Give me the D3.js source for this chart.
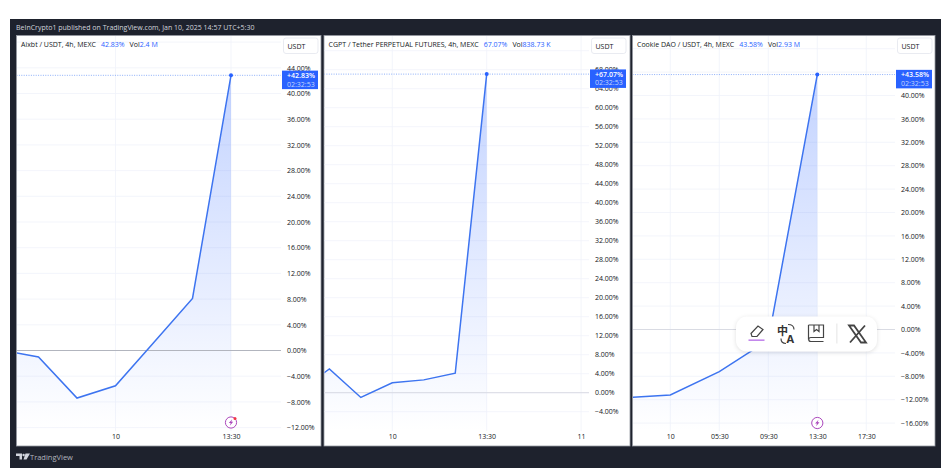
<!DOCTYPE html>
<html>
<head>
<meta charset="utf-8">
<script src="https://cdnjs.cloudflare.com/ajax/libs/d3/7.8.5/d3.min.js"></script>
<style>
  html, body { margin: 0; padding: 0; background: #fff; overflow: hidden; }
  text { font-family: "Open Sans", Roboto, sans-serif; }
</style>
</head>
<body>
<div id="chart"></div>
<script>
// Values (percent change, 4h bars, UTC+5:30)
const aixbtTimes = ["2025-01-09T13:30", "2025-01-09T17:30", "2025-01-09T21:30", "2025-01-10T01:30", "2025-01-10T05:30", "2025-01-10T09:30", "2025-01-10T13:30"];
const aixbtValues = [0.1, -1.0, -7.4, -5.5, 1.3, 8.1, 42.83];
const aixbtTicks = [44, 40, 36, 32, 28, 24, 20, 16, 12, 8, 4, 0, -4, -8, -12];
const aixbtGrid = [48, ...aixbtTicks];

const cgptTimes = ["2025-01-09T13:30", "2025-01-09T17:30", "2025-01-09T21:30", "2025-01-10T01:30", "2025-01-10T05:30", "2025-01-10T09:30", "2025-01-10T13:30"];
const cgptValues = [0.1, 5.0, -1.0, 2.1, 2.7, 4.1, 67.07];
const cgptTicks = [68, 64, 60, 56, 52, 48, 44, 40, 36, 32, 28, 24, 20, 16, 12, 8, 4, 0, -4];
const cgptGrid = [72, ...cgptTicks];

const cookieTimes = ["2025-01-09T21:30", "2025-01-10T01:30", "2025-01-10T05:30", "2025-01-10T09:30", "2025-01-10T13:30"];
const cookieValues = [-11.7, -11.2, -7.2, -1.8, 43.58];
const cookieTicks = [44, 40, 36, 32, 28, 24, 20, 16, 12, 8, 4, 0, -4, -8, -12, -16];
const cookieGrid = [48, ...cookieTicks];

const aixbtTimeTicks = [["2025-01-10T01:30", "10"], ["2025-01-10T13:30", "13:30"]];
const cgptTimeTicks = [["2025-01-10T01:30", "10"], ["2025-01-10T13:30", "13:30"], ["2025-01-11T01:30", "11"]];
const cookieTimeTicks = [["2025-01-10T01:30", "10"], ["2025-01-10T05:30", "05:30"], ["2025-01-10T09:30", "09:30"], ["2025-01-10T13:30", "13:30"], ["2025-01-10T17:30", "17:30"]];

const BLUE = "#2962ff";
const LINE = "#3d74f0";
const parseT = d3.timeParse("%Y-%m-%dT%H:%M");

const svg = d3.select("#chart").append("svg").attr("width", 952).attr("height", 471).style("display", "block");

// Frame
svg.append("rect").attr("x", 10).attr("y", 19).attr("width", 931).attr("height", 449).attr("fill", "#1e222d");
svg.append("text").attr("x", 16).attr("y", 30).attr("font-size", 7).attr("fill", "#d1d4dc")
  .text("BeInCrypto1 published on TradingView.com, Jan 10, 2025 14:57 UTC+5:30");

// One chart pane
function drawPanel(p) {
  const g = svg.append("g");
  const T = p.times.map(parseT);
  const data = T.map((t, i) => ({ t: t, v: p.values[i] }));
  const last = data[data.length - 1];

  const x = d3.scaleTime().domain([parseT(p.x0[0]), parseT(p.x1[0])]).range([p.x0[1], p.x1[1]]);
  const y = d3.scaleLinear().domain([0, 40]).range([p.zeroY, p.zeroY - p.per4 * 10]);

  g.append("rect").attr("x", p.left).attr("y", 35.5).attr("width", p.right - p.left).attr("height", 410.5)
    .attr("fill", "#fff").attr("stroke", "#9598a1").attr("stroke-width", 0.8);

  const clipId = "clip-" + p.id;
  svg.append("clipPath").attr("id", clipId).append("rect")
    .attr("x", p.left + 0.5).attr("y", 36).attr("width", p.plotRight - p.left).attr("height", 395);

  const plot = g.append("g").attr("clip-path", `url(#${clipId})`);

  // grid
  plot.selectAll("line.h").data(p.grid).enter().append("line").attr("class", "h")
    .attr("x1", p.left).attr("x2", p.plotRight)
    .attr("y1", (d) => y(d)).attr("y2", (d) => y(d))
    .attr("stroke", "#f0f3fa").attr("stroke-width", 0.8);
  plot.selectAll("line.v").data(p.timeTicks).enter().append("line").attr("class", "v")
    .attr("x1", (d) => x(parseT(d[0]))).attr("x2", (d) => x(parseT(d[0])))
    .attr("y1", 36).attr("y2", 431)
    .attr("stroke", "#f0f3fa").attr("stroke-width", 0.8);

  // area with vertical fade
  const gradId = "grad-" + p.id;
  const grad = svg.append("linearGradient").attr("id", gradId)
    .attr("gradientUnits", "userSpaceOnUse")
    .attr("x1", 0).attr("x2", 0).attr("y1", y(last.v)).attr("y2", 431);
  grad.append("stop").attr("offset", 0).attr("stop-color", BLUE).attr("stop-opacity", 0.28);
  grad.append("stop").attr("offset", 1).attr("stop-color", BLUE).attr("stop-opacity", 0);

  plot.append("path").datum(data)
    .attr("fill", `url(#${gradId})`)
    .attr("d", d3.area().x((d) => x(d.t)).y0(431).y1((d) => y(d.v)));

  // zero line
  plot.append("line").attr("x1", p.left).attr("x2", p.plotRight)
    .attr("y1", y(0)).attr("y2", y(0)).attr("stroke", p.zeroColor).attr("stroke-width", 1);

  // last price dotted line
  plot.append("line").attr("x1", p.left).attr("x2", p.plotRight)
    .attr("y1", y(last.v)).attr("y2", y(last.v))
    .attr("stroke", "#5b8cf5").attr("stroke-width", 0.7).attr("stroke-dasharray", "1 1.4");

  plot.append("path").datum(data)
    .attr("fill", "none").attr("stroke", LINE).attr("stroke-width", 1.5)
    .attr("d", d3.line().x((d) => x(d.t)).y((d) => y(d.v)));

  g.append("circle").attr("cx", x(last.t)).attr("cy", y(last.v)).attr("r", 2).attr("fill", BLUE);

  // price axis
  const axisY = d3.axisRight(y).tickValues(p.ticks).tickSize(0).tickPadding(0)
    .tickFormat((d) => (d < 0 ? "\u2212" + Math.abs(d).toFixed(2) : d.toFixed(2)) + "%");
  const ay = g.append("g").attr("transform", `translate(${p.labelX},0)`).call(axisY);
  ay.select(".domain").remove();
  ay.selectAll("text").attr("font-size", 7).attr("fill", "#131722").attr("font-family", '"Open Sans", Roboto, sans-serif');

  // time axis
  const axisX = d3.axisBottom(x).tickValues(p.timeTicks.map((d) => parseT(d[0]))).tickSize(0).tickPadding(0)
    .tickFormat((d, i) => p.timeTicks[i][1]);
  const ax = g.append("g").attr("transform", "translate(0,434)").call(axisX);
  ax.select(".domain").remove();
  ax.selectAll("text").attr("font-size", 7).attr("fill", "#131722").attr("font-family", '"Open Sans", Roboto, sans-serif');

  // legend line
  const legend = g.append("text").attr("x", p.left + 4.5).attr("y", 46.5).attr("font-size", 7).attr("fill", "#131722");
  legend.append("tspan").text(p.title);
  legend.append("tspan").attr("dx", 5).attr("fill", BLUE).text(last.v.toFixed(2) + "%");
  legend.append("tspan").attr("dx", 5).text("Vol");
  legend.append("tspan").attr("fill", BLUE).text(p.vol);

  // currency button
  g.append("rect").attr("x", p.labelX - 3.5).attr("y", 38).attr("width", 34.5).attr("height", 15.5).attr("rx", 2.5)
    .attr("fill", "#fff").attr("stroke", "#e0e3eb").attr("stroke-width", 0.7);
  g.append("text").attr("x", p.labelX + 0.5).attr("y", 48.5).attr("font-size", 7).attr("fill", "#131722").text("USDT");

  // last price tag
  g.append("rect").attr("x", p.labelX - 5).attr("y", y(last.v) - 4.7).attr("width", 36).attr("height", 18.5).attr("fill", BLUE);
  g.append("text").attr("x", p.labelX).attr("y", y(last.v) + 2.8).attr("font-size", 7).attr("fill", "#fff")
    .attr("font-weight", 600).text("+" + last.v.toFixed(2) + "%");
  g.append("text").attr("x", p.labelX).attr("y", y(last.v) + 11.3).attr("font-size", 7).attr("fill", "#c4d5fd").text("02:32:53");

  // lightning marker
  if (p.boltY) {
    const bolt = g.append("g").attr("transform", `translate(${x(last.t)},${p.boltY})`);
    bolt.append("circle").attr("r", 5.6).attr("fill", "#fff").attr("stroke", "#ab47bc").attr("stroke-width", 1);
    bolt.append("path").attr("d", "M1.2,-3.2L-2.2,0.6L-0.3,0.6L-1.2,3.2L2.2,-0.7L0.3,-0.7Z").attr("fill", "#ab47bc");
    if (p.boltDot) bolt.append("circle").attr("cx", 4).attr("cy", -4).attr("r", 1.5).attr("fill", "#f23645");
  }
}

drawPanel({
  id: "aixbt", title: "Aixbt / USDT, 4h, MEXC", vol: "2.4 M",
  times: aixbtTimes, values: aixbtValues, ticks: aixbtTicks, grid: aixbtGrid, timeTicks: aixbtTimeTicks,
  left: 16.5, right: 321, plotRight: 281, labelX: 287,
  x0: ["2025-01-10T01:30", 115.5], x1: ["2025-01-10T13:30", 231],
  zeroY: 350.5, per4: 25.7, zeroColor: "#b2b5be", boltY: 422.5, boltDot: true
});

drawPanel({
  id: "cgpt", title: "CGPT / Tether PERPETUAL FUTURES, 4h, MEXC", vol: "838.73 K",
  times: cgptTimes, values: cgptValues, ticks: cgptTicks, grid: cgptGrid, timeTicks: cgptTimeTicks,
  left: 324, right: 630, plotRight: 589, labelX: 595,
  x0: ["2025-01-10T01:30", 392.3], x1: ["2025-01-10T13:30", 486.7],
  zeroY: 392.7, per4: 19.0, zeroColor: "#d9dbe3", boltY: 0, boltDot: false
});

drawPanel({
  id: "cookie", title: "Cookie DAO / USDT, 4h, MEXC", vol: "2.93 M",
  times: cookieTimes, values: cookieValues, ticks: cookieTicks, grid: cookieGrid, timeTicks: cookieTimeTicks,
  left: 632.5, right: 935, plotRight: 895, labelX: 901,
  x0: ["2025-01-10T01:30", 670.3], x1: ["2025-01-10T13:30", 817.3],
  zeroY: 329.5, per4: 23.4, zeroColor: "#d9dbe3", boltY: 423, boltDot: false
});

// Footer logo
const logo = svg.append("g").attr("transform", "translate(16,453)");
logo.append("path").attr("d", "M0,0.5H6V6.5H3.5V3H0ZM9.5,0.5H14L10.5,6.5H7.5Z").attr("fill", "#d1d4dc");
logo.append("circle").attr("cx", 7.6).attr("cy", 2).attr("r", 1.2).attr("fill", "#d1d4dc");
svg.append("text").attr("x", 30).attr("y", 460).attr("font-size", 7.5).attr("fill", "#b2b5be").text("TradingView");

// Browser popup toolbar sitting over the third chart
const pop = svg.append("g").attr("transform", "translate(736,316.5)");
pop.append("rect").attr("width", 141).attr("height", 35).attr("rx", 11).attr("fill", "#fff")
  .style("filter", "drop-shadow(0 1px 2px rgba(0,0,0,0.12))");
pop.append("path").attr("d", "M15,17L22,9.5L27,13L21,20H16Z").attr("fill", "none").attr("stroke", "#444").attr("stroke-width", 1.2);
pop.append("rect").attr("x", 12.5).attr("y", 23).attr("width", 16).attr("height", 1.3).attr("fill", "#b56be8");
pop.append("text").attr("x", 41).attr("y", 18).attr("font-size", 11).attr("font-weight", 700).attr("fill", "#333")
  .style("font-family", '"Noto Sans CJK SC"').text("中");
pop.append("text").attr("x", 50.5).attr("y", 26.5).attr("font-size", 11).attr("font-weight", 700).attr("fill", "#333").text("A");
pop.append("path").attr("d", "M52,8C56,8 58,10 58,13M45,22C45,25 47,27 50,27").attr("fill", "none").attr("stroke", "#444").attr("stroke-width", 1.2);
pop.append("path").attr("d", "M72.5,8.5H87.5V21H75C72,21 72,25 75,25H87.5M72.5,8.5V23M78,8.5V15L80.5,13L83,15V8.5").attr("fill", "none").attr("stroke", "#444").attr("stroke-width", 1.2);
pop.append("rect").attr("x", 100.5).attr("y", 7).attr("width", 0.8).attr("height", 20).attr("fill", "#ddd");
pop.append("path").attr("d", "M113,9H118L130,26H125ZM129,9L114,26").attr("fill", "none").attr("stroke", "#444").attr("stroke-width", 1.8);
</script>
</body>
</html>
